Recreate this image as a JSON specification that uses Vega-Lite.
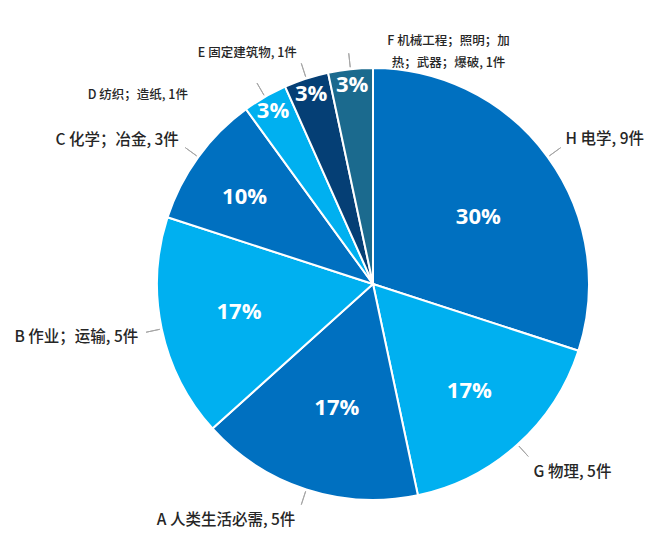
{
  "$schema": "https://vega.github.io/schema/vega-lite/v6.json",
  "width": 570,
  "height": 532,
  "autosize": "none",
  "padding": {"left": 88, "top": 18, "right": 2, "bottom": -2},
  "background": "white",
  "config": {"view": {"stroke": null}},
  "data": {
    "values": [
      {"idx": 1, "cat": "H", "label": "H 电学, 9件", "n": 9, "pct": "30%"},
      {"idx": 2, "cat": "G", "label": "G 物理, 5件", "n": 5, "pct": "17%"},
      {"idx": 3, "cat": "A", "label": "A 人类生活必需, 5件", "n": 5, "pct": "17%"},
      {"idx": 4, "cat": "B", "label": "B 作业；运输, 5件", "n": 5, "pct": "17%"},
      {"idx": 5, "cat": "C", "label": "C 化学；冶金, 3件", "n": 3, "pct": "10%"},
      {"idx": 6, "cat": "D", "label": "D 纺织；造纸, 1件", "n": 1, "pct": "3%"},
      {"idx": 7, "cat": "E", "label": "E 固定建筑物, 1件", "n": 1, "pct": "3%"},
      {"idx": 8, "cat": "F", "label": "F 机械工程；照明；加\n热；武器；爆破, 1件", "n": 1, "pct": "3%"}
    ]
  },
  "encoding": {
    "theta": {"field": "n", "type": "quantitative", "stack": true},
    "order": {"field": "idx", "type": "quantitative"}
  },
  "layer": [
    {
      "mark": {"type": "arc", "outerRadius": 216, "stroke": "white", "strokeWidth": 2},
      "encoding": {
        "color": {
          "field": "cat",
          "type": "nominal",
          "legend": null,
          "scale": {
            "domain": ["H", "G", "A", "B", "C", "D", "E", "F"],
            "range": ["#0070c0", "#00b0f0", "#0070c0", "#00b0f0", "#0070c0", "#00b0f0", "#053f75", "#1b6a8e"]
          }
        }
      }
    },
    {
      "mark": {"type": "arc", "outerRadius": 232, "innerRadius": 218, "padAngle": 3, "stroke": "#a6a6a6", "strokeWidth": 1, "fill": "transparent"},
      "encoding": {}
    },
    {
      "mark": {"type": "text", "radius": 124, "dx": 5, "dy": 6, "font": "Open Sans", "fontWeight": "bold", "fontSize": 22, "fill": "white", "baseline": "middle"},
      "encoding": {"text": {"condition": {"test": "datum.cat == 'H'", "field": "pct"}, "value": ""}}
    },
    {
      "mark": {"type": "text", "radius": 144, "font": "Open Sans", "fontWeight": "bold", "fontSize": 22, "fill": "white", "baseline": "middle"},
      "encoding": {"text": {"condition": {"test": "datum.cat == 'G'", "field": "pct"}, "value": ""}}
    },
    {
      "mark": {"type": "text", "radius": 130, "dx": 4, "font": "Open Sans", "fontWeight": "bold", "fontSize": 22, "fill": "white", "baseline": "middle"},
      "encoding": {"text": {"condition": {"test": "datum.cat == 'A'", "field": "pct"}, "value": ""}}
    },
    {
      "mark": {"type": "text", "radius": 137, "font": "Open Sans", "fontWeight": "bold", "fontSize": 22, "fill": "white", "baseline": "middle"},
      "encoding": {"text": {"condition": {"test": "datum.cat == 'B'", "field": "pct"}, "value": ""}}
    },
    {
      "mark": {"type": "text", "radius": 155, "dx": -3, "dy": 4, "font": "Open Sans", "fontWeight": "bold", "fontSize": 22, "fill": "white", "baseline": "middle"},
      "encoding": {"text": {"condition": {"test": "datum.cat == 'C'", "field": "pct"}, "value": ""}}
    },
    {
      "mark": {"type": "text", "radius": 200, "font": "Open Sans", "fontWeight": "bold", "fontSize": 22, "fill": "white", "baseline": "middle"},
      "encoding": {"text": {"condition": {"test": "datum.n == 1", "field": "pct"}, "value": ""}}
    },
    {
      "mark": {"type": "text", "radius": 238, "dy": -5, "align": "left", "baseline": "middle", "font": "Noto Sans CJK SC", "fontWeight": 500, "fontSize": 15.5, "fill": "#262626"},
      "encoding": {"text": {"condition": {"test": "datum.cat == 'H'", "field": "label"}, "value": ""}}
    },
    {
      "mark": {"type": "text", "radius": 240, "dy": 10, "align": "left", "baseline": "middle", "font": "Noto Sans CJK SC", "fontWeight": 500, "fontSize": 15.5, "fill": "#262626"},
      "encoding": {"text": {"condition": {"test": "datum.cat == 'G'", "field": "label"}, "value": ""}}
    },
    {
      "mark": {"type": "text", "radius": 248, "dx": -1, "align": "right", "baseline": "middle", "font": "Noto Sans CJK SC", "fontWeight": 500, "fontSize": 15.5, "fill": "#262626"},
      "encoding": {"text": {"condition": {"test": "datum.cat == 'A'", "field": "label"}, "value": ""}}
    },
    {
      "mark": {"type": "text", "radius": 240, "dy": 3, "align": "right", "baseline": "middle", "font": "Noto Sans CJK SC", "fontWeight": 500, "fontSize": 15.5, "fill": "#262626"},
      "encoding": {"text": {"condition": {"test": "datum.cat == 'B'", "field": "label"}, "value": ""}}
    },
    {
      "mark": {"type": "text", "radius": 240, "dy": -3, "align": "right", "baseline": "middle", "font": "Noto Sans CJK SC", "fontWeight": 500, "fontSize": 15.5, "fill": "#262626"},
      "encoding": {"text": {"condition": {"test": "datum.cat == 'C'", "field": "label"}, "value": ""}}
    },
    {
      "mark": {"type": "text", "radius": 240, "dx": -65, "dy": 19, "align": "right", "baseline": "middle", "font": "Noto Sans CJK SC", "fontWeight": 500, "fontSize": 12.5, "fill": "#262626"},
      "encoding": {"text": {"condition": {"test": "datum.cat == 'D'", "field": "label"}, "value": ""}}
    },
    {
      "mark": {"type": "text", "radius": 240, "dx": -2, "dy": -3, "align": "right", "baseline": "middle", "font": "Noto Sans CJK SC", "fontWeight": 500, "fontSize": 12.5, "fill": "#262626"},
      "encoding": {"text": {"condition": {"test": "datum.cat == 'E'", "field": "label"}, "value": ""}}
    },
    {
      "mark": {"type": "text", "radius": 244, "dx": 101, "align": "center", "baseline": "middle", "lineBreak": "\n", "lineHeight": 22, "font": "Noto Sans CJK SC", "fontWeight": 500, "fontSize": 12.5, "fill": "#262626"},
      "encoding": {"text": {"condition": {"test": "datum.cat == 'F'", "field": "label"}, "value": ""}}
    }
  ]
}
